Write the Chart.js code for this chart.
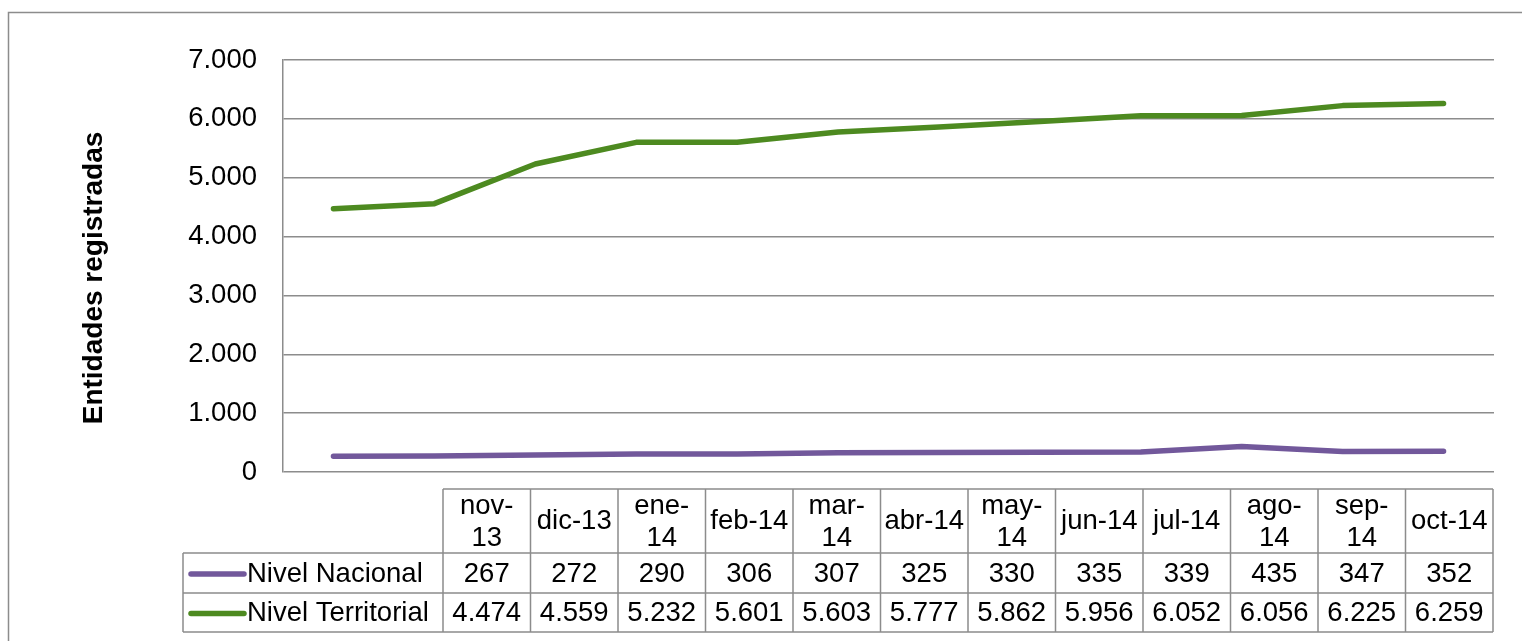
<!DOCTYPE html>
<html>
<head>
<meta charset="utf-8">
<script src="https://cdn.jsdelivr.net/npm/chart.js@4/dist/chart.umd.min.js"></script>
<style>
  html, body { margin: 0; padding: 0; background: #fff; }
  canvas { display: block; }
</style>
</head>
<body>
<canvas id="entidades" width="1522" height="641"></canvas>
<script>
const meses = ['nov-13', 'dic-13', 'ene-14', 'feb-14', 'mar-14', 'abr-14', 'may-14', 'jun-14', 'jul-14', 'ago-14', 'sep-14', 'oct-14'];
const nacional = [267, 272, 290, 306, 307, 325, 330, 335, 339, 435, 347, 352];
const territorial = [4474, 4559, 5232, 5601, 5603, 5777, 5862, 5956, 6052, 6056, 6225, 6259];
const yTicks = [0, 1000, 2000, 3000, 4000, 5000, 6000, 7000];
const tituloY = 'Entidades registradas';

const gris = '#8c8c8c';
const fuente = "'Liberation Sans', Arial, sans-serif";

// miles con punto: 4474 -> 4.474
function fmt(v) {
    return String(v).replace(/\B(?=(\d{3})+(?!\d))/g, '.');
}

// marco, titulo del eje y tabla de datos
const tablaPlugin = {
    id: 'tabla',
    afterDraw(chart) {
        const ctx = chart.ctx;
        ctx.save();

        // marco exterior
        ctx.strokeStyle = gris;
        ctx.lineWidth = 1.5;
        ctx.strokeRect(8.5, 12.5, 1600, 700);

        // titulo eje y
        ctx.save();
        ctx.translate(94, 278);
        ctx.rotate(-Math.PI / 2);
        ctx.fillStyle = '#000';
        ctx.font = 'bold 28px ' + fuente;
        ctx.textAlign = 'center';
        ctx.textBaseline = 'middle';
        ctx.fillText(tituloY, 0, 0);
        ctx.restore();

        const x0 = 443, colW = 87.5, legL = 183;
        const yH = 489, yR1 = 553, yR2 = 593, yEnd = 632;
        const n = chart.data.labels.length;
        const xEnd = x0 + n * colW;

        ctx.strokeStyle = gris;
        ctx.lineWidth = 1.5;
        ctx.beginPath();
        ctx.moveTo(x0, yH); ctx.lineTo(xEnd, yH);
        [yR1, yR2, yEnd].forEach(y => { ctx.moveTo(legL, y); ctx.lineTo(xEnd, y); });
        ctx.moveTo(legL, yR1); ctx.lineTo(legL, yEnd);
        for (let i = 0; i <= n; i++) {
            ctx.moveTo(x0 + i * colW, yH);
            ctx.lineTo(x0 + i * colW, yEnd);
        }
        ctx.stroke();

        ctx.fillStyle = '#000';
        ctx.font = '27.5px ' + fuente;
        ctx.textAlign = 'center';
        ctx.textBaseline = 'middle';

        // encabezados (se parten tras el guion si no caben)
        chart.data.labels.forEach((lab, i) => {
            const cx = x0 + i * colW + colW / 2;
            const cy = (yH + yR1) / 2;
            if (ctx.measureText(lab).width > colW - 7) {
                const k = lab.indexOf('-') + 1;
                ctx.fillText(lab.slice(0, k), cx, cy - 15);
                ctx.fillText(lab.slice(k), cx, cy + 17);
            } else {
                ctx.fillText(lab, cx, cy);
            }
        });

        // filas de series
        const filas = [[yR1, yR2], [yR2, yEnd]];
        chart.data.datasets.forEach((ds, d) => {
            const cy = (filas[d][0] + filas[d][1]) / 2 + 1;
            ctx.strokeStyle = ds.borderColor;
            ctx.lineWidth = 5.5;
            ctx.lineCap = 'round';
            ctx.beginPath();
            ctx.moveTo(191, cy); ctx.lineTo(244, cy);
            ctx.stroke();

            ctx.textAlign = 'left';
            ctx.fillText(ds.label, 247, cy);
            ctx.textAlign = 'center';
            ds.data.forEach((v, i) => {
                ctx.fillText(fmt(v), x0 + i * colW + colW / 2, cy);
            });
        });

        ctx.restore();
    }
};

Chart.defaults.font.family = fuente;
Chart.defaults.font.size = 27.5;
Chart.defaults.color = '#000';

new Chart(document.getElementById('entidades'), {
    type: 'line',
    data: {
        labels: meses,
        datasets: [{
            label: 'Nivel Nacional',
            data: nacional,
            borderColor: '#72589b',
            borderWidth: 5.5,
            borderCapStyle: 'round',
            borderJoinStyle: 'round',
            pointRadius: 0,
            tension: 0
        }, {
            label: 'Nivel Territorial',
            data: territorial,
            borderColor: '#4d8a20',
            borderWidth: 5.5,
            borderCapStyle: 'round',
            borderJoinStyle: 'round',
            pointRadius: 0,
            tension: 0
        }]
    },
    options: {
        responsive: false,
        devicePixelRatio: 1,
        animation: false,
        layout: {
            padding: { left: 0, right: 28, top: 60, bottom: 169 }
        },
        plugins: {
            legend: { display: false },
            tooltip: { enabled: false }
        },
        scales: {
            x: {
                display: false,
                offset: true
            },
            y: {
                min: 0,
                max: 7000,
                afterFit: scale => { scale.width = 283; },
                afterBuildTicks: scale => { scale.ticks = yTicks.map(v => ({ value: v })); },
                ticks: {
                    padding: 26,
                    callback: v => fmt(v)
                },
                grid: {
                    color: gris,
                    lineWidth: 1.5,
                    drawTicks: false
                },
                border: {
                    display: true,
                    color: gris,
                    width: 1.5
                }
            }
        }
    },
    plugins: [tablaPlugin]
});
</script>
</body>
</html>
